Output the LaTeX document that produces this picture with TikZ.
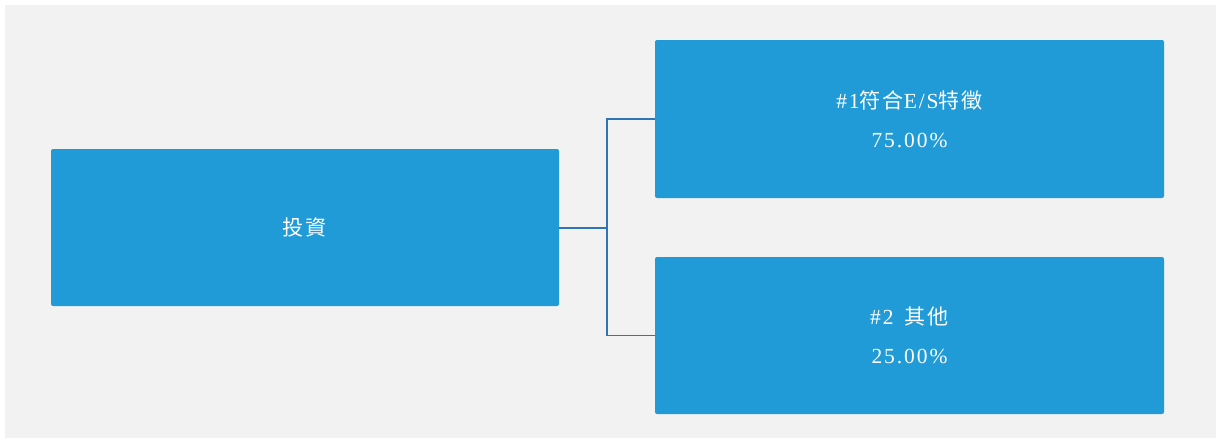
\documentclass[tikz,border=0pt]{standalone}
\usepackage{fontspec}
\setmainfont{Liberation Serif}[LetterSpace=9]
\newfontfamily\cjk{Noto Sans CJK TC}[Scale=0.98,LetterSpace=9]
\definecolor{boxblue}{HTML}{209BD7}
\definecolor{linkblue}{HTML}{2E75B6}
\definecolor{bggray}{HTML}{F2F2F2}
\begin{document}
\begin{tikzpicture}[x=1pt,y=-1pt,
  box/.style={fill=boxblue,rounded corners=2pt,text=white,align=center,font=\fontsize{21.5}{39}\selectfont},
  link/.style={draw=linkblue,line width=1.1pt}]
\useasboundingbox (0,0) rectangle (1222,439);
\fill[white] (0,0) rectangle (1222,439);
\fill[bggray] (5,5) rectangle (1216,438);
\node[box,minimum width=508pt,minimum height=157pt] (root) at (305,227.5) {{\cjk 投資}};
\node[box,minimum width=509pt,minimum height=158pt] (a) at (909.5,119) {\#1{\cjk 符合}E/S{\cjk 特徵}\\75.00\%};
\node[box,minimum width=509pt,minimum height=157pt] (b) at (909.5,335.5) {\#2\hspace{4pt} {\cjk 其他}\\25.00\%};
\coordinate (j) at (607,228);
\draw[link] (root.east |- j) -- (j);
\draw[link] (a.west) -| (j) |- (b.west);
\end{tikzpicture}
\end{document}
